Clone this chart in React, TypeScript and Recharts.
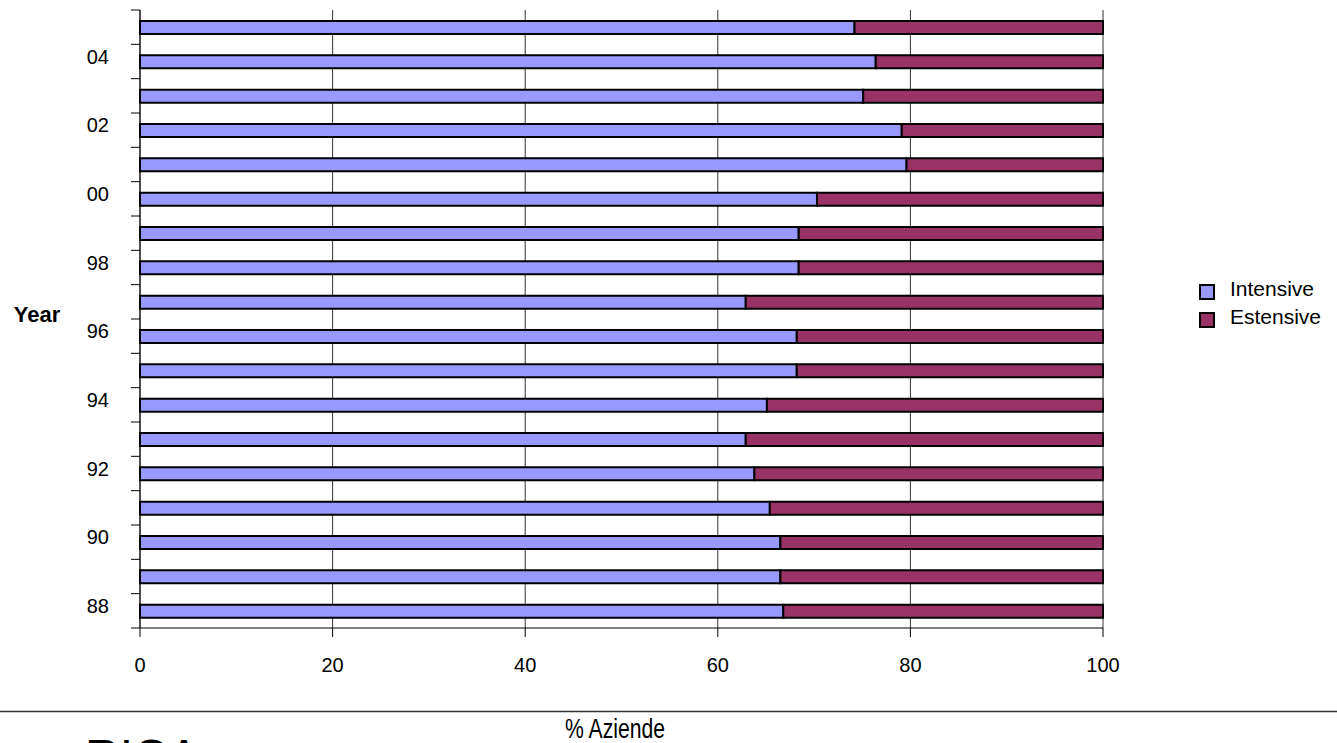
import React from 'react';
import { BarChart, Bar, XAxis, YAxis, CartesianGrid, Legend } from 'recharts';

const years = ['88', '89', '90', '91', '92', '93', '94', '95', '96', '97', '98', '99', '00', '01', '02', '03', '04', '05'];
const intensive = [66.8, 66.5, 66.5, 65.4, 63.8, 62.9, 65.1, 68.2, 68.2, 62.9, 68.4, 68.4, 70.3, 79.6, 79.1, 75.1, 76.4, 74.2];
const estensive = [33.2, 33.5, 33.5, 34.6, 36.2, 37.1, 34.9, 31.8, 31.8, 37.1, 31.6, 31.6, 29.7, 20.4, 20.9, 24.9, 23.6, 25.8];
const labeledYears = ['88', '90', '92', '94', '96', '98', '00', '02', '04'];
const xTicks = [0, 20, 40, 60, 80, 100];
const seriesNames = ['Intensive', 'Estensive'];
const seriesColors = ['#9999FF', '#993366'];

const data = years.map((y, i) => ({ year: y, intensive: intensive[i], estensive: estensive[i] }));

const W = 1337;
const H = 743;
const TOP = 10;
const RIGHT = 234;
const LEFT_W = 140;
const X_AXIS_H = 115;
const PLOT_H = H - TOP - X_AXIS_H;
const BAND = PLOT_H / years.length;
const FONT = 'Liberation Sans, Arial, Helvetica, sans-serif';

const YTick = (props: any) => {
  const { x, y, payload, index } = props;
  const label = labeledYears.includes(payload.value) ? payload.value : '';
  const axisX = x + 31;
  return (
    <g>
      <line x1={axisX - 9} x2={axisX} y1={y - BAND / 2} y2={y - BAND / 2} stroke="#000" strokeWidth={1} />
      {index === 0 && (
        <line x1={axisX - 9} x2={axisX} y1={y + BAND / 2} y2={y + BAND / 2} stroke="#000" strokeWidth={1} />
      )}
      <text x={x} y={y - 5} dy="0.355em" textAnchor="end" fontSize={20} fill="#000" fontFamily={FONT}>
        {label}
      </text>
    </g>
  );
};

const LegendContent = (props: any) => {
  const payload = [...(props.payload || [])].sort(
    (a: any, b: any) => seriesNames.indexOf(a.value) - seriesNames.indexOf(b.value)
  );
  return (
    <div style={{ fontFamily: FONT, fontSize: 21, color: '#000' }}>
      {payload.map((p: any, i: number) => (
        <div key={i} style={{ display: 'flex', alignItems: 'center', height: 28 }}>
          <span
            style={{
              display: 'inline-block',
              width: 12,
              height: 12,
              background: p.color,
              border: '2px solid #000',
              marginRight: 15,
              marginTop: 6,
            }}
          />
          <span>{p.value}</span>
        </div>
      ))}
    </div>
  );
};

export default function App() {
  return (
    <div style={{ position: 'absolute', left: 0, top: 0, width: W, height: H, background: '#fff', overflow: 'hidden' }}>
      <BarChart
        width={W}
        height={H}
        data={data}
        layout="vertical"
        margin={{ top: TOP, right: RIGHT, bottom: 0, left: 0 }}
        barSize={13}
      >
        <CartesianGrid horizontal={false} vertical={true} stroke="#333" strokeWidth={1} />
        <XAxis
          type="number"
          domain={[0, 100]}
          ticks={xTicks}
          height={X_AXIS_H}
          tickSize={9}
          tickMargin={21}
          axisLine={{ stroke: '#000', strokeWidth: 1 }}
          tickLine={{ stroke: '#000', strokeWidth: 1 }}
          tick={{ fontSize: 20, fill: '#000', fontFamily: FONT }}
        />
        <YAxis
          type="category"
          dataKey="year"
          reversed
          width={LEFT_W}
          interval={0}
          tickSize={9}
          tickMargin={22}
          tickLine={false}
          axisLine={{ stroke: '#000', strokeWidth: 1 }}
          tick={<YTick />}
          label={{
            value: 'Year',
            content: () => (
              <text x={37} y={314} dy="0.355em" textAnchor="middle" fontSize={22} fontWeight="bold" fill="#000" fontFamily={FONT}>
                Year
              </text>
            ),
          }}
        />
        <Legend
          layout="vertical"
          align="center"
          verticalAlign="middle"
          content={<LegendContent />}
          wrapperStyle={{ position: 'absolute', left: 1199, top: 275, width: 140, height: 60 }}
        />
        <Bar
          dataKey="intensive"
          name={seriesNames[0]}
          stackId="a"
          fill={seriesColors[0]}
          stroke="#000"
          strokeWidth={2}
          isAnimationActive={false}
        />
        <Bar
          dataKey="estensive"
          name={seriesNames[1]}
          stackId="a"
          fill={seriesColors[1]}
          stroke="#000"
          strokeWidth={2}
          isAnimationActive={false}
        />
      </BarChart>
      <svg
        width={W}
        height={H}
        style={{ position: 'absolute', left: 0, top: 0, pointerEvents: 'none' }}
      >
        <line x1={0} x2={W} y1={711.5} y2={711.5} stroke="#333" strokeWidth={1.5} />
        <text
          x={565}
          y={738}
          fontSize={28}
          textLength={100}
          lengthAdjust="spacingAndGlyphs"
          fill="#000"
          fontFamily={FONT}
        >
          % Aziende
        </text>
        <text x={85} y={773} fontSize={48} fill="#000" fontFamily={FONT}>
          RICA
        </text>
      </svg>
    </div>
  );
}
